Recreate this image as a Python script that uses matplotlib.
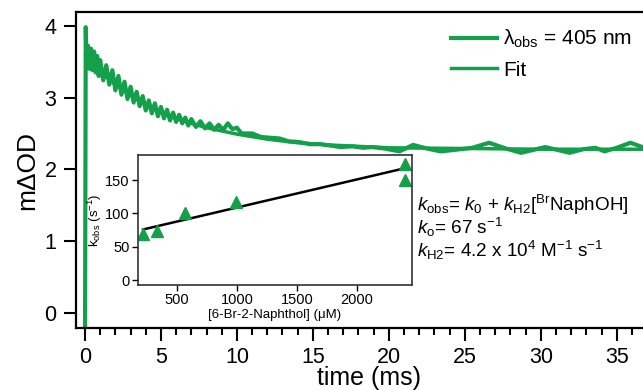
import numpy as np
import matplotlib.pyplot as plt
from matplotlib.ticker import MultipleLocator

plt.rcParams['font.family'] = ['Liberation Sans', 'DejaVu Sans']
plt.rcParams['mathtext.fontset'] = 'custom'
plt.rcParams['mathtext.rm'] = 'Liberation Sans'
plt.rcParams['mathtext.it'] = 'Liberation Sans:italic'

GREEN = '#14a04a'

# transient absorption trace (time in ms, mOD)
t_obs = [0.0, 0.05, 0.1, 0.2, 0.3, 0.4, 0.5, 0.6, 0.7, 0.8, 0.9, 1.0, 1.2,
         1.4, 1.6, 1.8, 2.0, 2.2, 2.4, 2.6, 2.8, 3.0, 3.2, 3.4, 3.6, 3.8,
         4.0, 4.2, 4.4, 4.6, 4.8, 5.0, 5.2, 5.4, 5.6, 5.8, 6.0, 6.2, 6.4,
         6.6, 6.8, 7.0, 7.3, 7.6, 7.9, 8.2, 8.5, 8.8, 9.1, 9.4, 9.7, 10.0,
         10.3, 11.0, 11.6, 12.2, 12.8, 13.4, 14.1, 14.8, 15.5, 16.2, 16.8,
         17.6, 18.3, 18.9, 19.7, 20.7, 21.6, 22.5, 23.4, 24.3, 25.5, 26.6,
         27.7, 28.7, 29.5, 30.3, 31.1, 31.9, 32.8, 33.6, 34.2, 35.0, 35.9,
         36.7, 38.0]
mod_obs = [-0.6, 3.98, 3.45, 3.72, 3.40, 3.68, 3.38, 3.64, 3.35, 3.58, 3.30,
           3.52, 3.24, 3.45, 3.18, 3.38, 3.10, 3.30, 3.04, 3.22, 2.98, 3.15,
           2.93, 3.08, 2.88, 3.02, 2.82, 2.96, 2.78, 2.92, 2.74, 2.87, 2.71,
           2.83, 2.68, 2.79, 2.66, 2.76, 2.64, 2.72, 2.61, 2.70, 2.59, 2.67,
           2.57, 2.64, 2.55, 2.62, 2.55, 2.64, 2.56, 2.58, 2.50, 2.50, 2.45,
           2.44, 2.43, 2.39, 2.38, 2.35, 2.35, 2.33, 2.31, 2.32, 2.30, 2.31,
           2.29, 2.25, 2.34, 2.29, 2.25, 2.27, 2.30, 2.37, 2.29, 2.23, 2.27,
           2.31, 2.27, 2.23, 2.28, 2.30, 2.25, 2.30, 2.37, 2.31, 2.29]

# exponential fit
t_fit = [0.05, 1, 2, 3, 4, 5, 6, 7, 8, 10, 12, 14, 16, 18, 20, 25, 30, 38]
mod_fit = [3.58, 3.36, 3.18, 3.03, 2.90, 2.80, 2.71, 2.64, 2.58, 2.49, 2.42,
           2.37, 2.34, 2.32, 2.30, 2.29, 2.28, 2.28]

# inset: k_obs vs naphthol concentration
conc = [217, 333, 567, 992, 2400, 2400]
k_obs = [69, 73, 100, 117, 175, 150]
conc_fit = [217, 2400]
k_fit = [76, 168]

fig = plt.figure(figsize=(6.43, 3.9), dpi=100)
ax = fig.add_axes([0.118, 0.159, 0.912, 0.810])
ax.plot(t_obs, mod_obs, color=GREEN, lw=3, label=r'λ$_{\mathrm{obs}}$ = 405 nm',
        solid_joinstyle='round')
ax.plot(t_fit, mod_fit, color=GREEN, lw=2.5, label='Fit')
ax.set_xlim(-0.6, 38)
ax.set_ylim(-0.21, 4.19)
ax.xaxis.set_major_locator(MultipleLocator(5))
ax.xaxis.set_minor_locator(MultipleLocator(1))
ax.yaxis.set_major_locator(MultipleLocator(1))
ax.tick_params(axis='both', which='major', direction='out', length=9, width=1.5,
               labelsize=15.5, pad=5)
ax.tick_params(axis='x', which='minor', direction='out', length=5, width=1.5)
for s in ax.spines.values():
    s.set_linewidth(1.6)
ax.spines['right'].set_visible(False)
ax.set_xlabel('time (ms)', fontsize=18, labelpad=-1.5)
ax.set_ylabel('mΔOD', fontsize=19, labelpad=4)
ax.legend(loc='upper left', bbox_to_anchor=(0.685, 0.955),
          bbox_transform=fig.transFigure, frameon=False, fontsize=15,
          handlelength=2.2, handletextpad=0.3, borderpad=0, labelspacing=0.5)

ins = fig.add_axes([0.2146, 0.269, 0.426, 0.333])
ins.plot(conc_fit, k_fit, color='black', lw=1.8)
ins.plot(conc, k_obs, '^', color=GREEN, ms=8, mec=GREEN)
ins.set_xlim(175, 2458)
ins.set_ylim(-7.5, 187.5)
ins.set_xticks([500, 1000, 1500, 2000])
ins.set_yticks([0, 50, 100, 150])
ins.tick_params(direction='out', length=4, width=1, labelsize=10.5, pad=2)
for s in ins.spines.values():
    s.set_linewidth(1.2)
    s.set_color('#333333')
ins.set_xlabel('[6-Br-2-Naphthol] (μM)', fontsize=9.5, labelpad=1)
ins.set_ylabel(r'k$_{\mathrm{obs}}$ (s$^{\mathrm{-1}}$)', fontsize=9.5, labelpad=1)

eq_lines = [r'$k_{\mathrm{obs}}$= $k_{\mathrm{0}}$ + $k_{\mathrm{H2}}$[$^{\mathrm{Br}}$NaphOH]',
            r'$k_{\mathrm{o}}$= 67 s$^{\mathrm{-1}}$',
            r'$k_{\mathrm{H2}}$= 4.2 x 10$^{\mathrm{4}}$ M$^{\mathrm{-1}}$ s$^{\mathrm{-1}}$']
for i, line in enumerate(eq_lines):
    fig.text(0.6485, 0.458 - i * 0.058, line, fontsize=13.6, va='baseline', ha='left')

fig.savefig('out.png', dpi=100)
